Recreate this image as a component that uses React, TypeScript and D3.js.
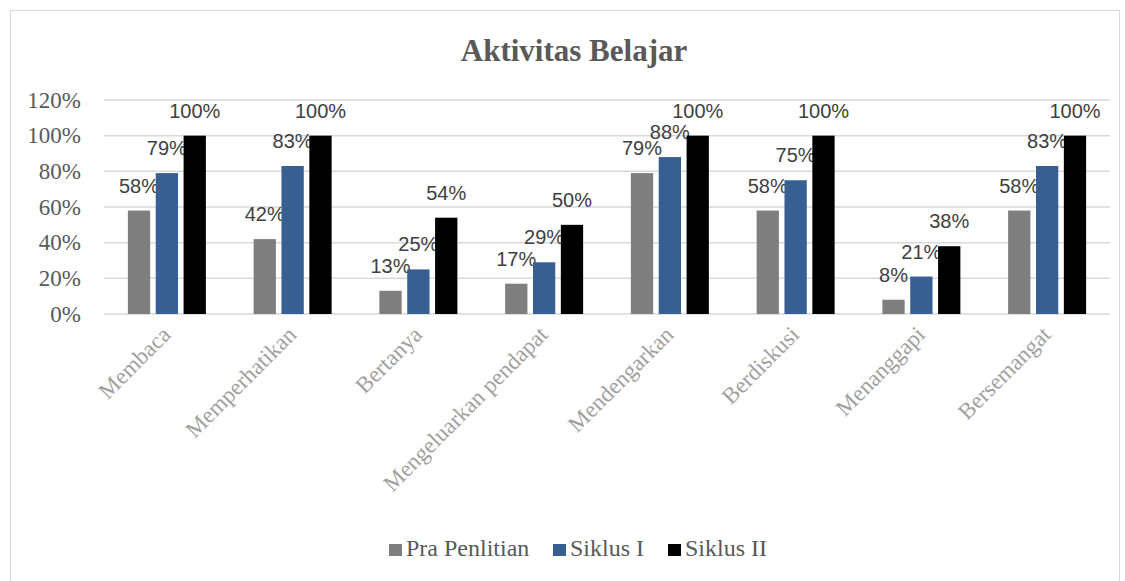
import React from 'react';
import * as d3 from 'd3';

const categories = [
  'Membaca',
  'Memperhatikan',
  'Bertanya',
  'Mengeluarkan pendapat',
  'Mendengarkan',
  'Berdiskusi',
  'Menanggapi',
  'Bersemangat',
];
const seriesNames = ['Pra Penlitian', 'Siklus I', 'Siklus II'];
const praPenelitian = [58, 42, 13, 17, 79, 58, 8, 58];
const siklusI = [79, 83, 25, 29, 88, 75, 21, 83];
const siklusII = [100, 100, 54, 50, 100, 100, 38, 100];
const yTicks = [0, 20, 40, 60, 80, 100, 120];

const colors = ['#7f7f7f', '#375f92', '#000000'];

const width = 1125;
const height = 581;
const margin = { top: 100, right: 15, bottom: 267, left: 104 };

const App: React.FC = () => {
  const series = [praPenelitian, siklusI, siklusII];

  const x0 = d3.scaleBand<string>()
    .domain(categories)
    .range([margin.left, width - margin.right])
    .paddingInner(0)
    .paddingOuter(0);

  // three bars of ~22px with small gaps, centered in each band
  const groupW = 78;
  const x1 = d3.scaleBand<number>()
    .domain([0, 1, 2])
    .range([0, groupW])
    .paddingInner(0.2);

  const y = d3.scaleLinear()
    .domain([0, 120])
    .range([height - margin.bottom, margin.top]);

  const serif = "'Liberation Serif', 'Times New Roman', serif";
  const sans = "'Liberation Sans', 'Noto Sans', Arial, sans-serif";

  // legend layout
  const legendX = [389, 553, 668];

  return (
    <svg width={width} height={height} style={{ position: 'absolute', left: 0, top: 0, background: '#fff' }}>
      <rect x={10.5} y={10.5} width={1109} height={580} fill="#fff" stroke="#d9d9d9" />

      <text x={574} y={61} textAnchor="middle" fontFamily={serif} fontWeight="bold" fontSize={31} fill="#595959">
        Aktivitas Belajar
      </text>

      {yTicks.map((t) => (
        <g key={t}>
          <line x1={margin.left} x2={width - margin.right} y1={y(t)} y2={y(t)} stroke="#d9d9d9" strokeWidth={1.5} />
          <text x={81} y={y(t) + 7.5} textAnchor="end" fontFamily={serif} fontSize={23} fill="#595959">
            {t}%
          </text>
        </g>
      ))}

      {categories.map((c, i) => {
        const gx = (x0(c) ?? 0) + (x0.bandwidth() - groupW) / 2;
        return (
          <g key={c}>
            {series.map((s, k) => {
              const bx = gx + (x1(k) ?? 0);
              const bw = x1.bandwidth();
              return (
                <g key={k}>
                  <rect x={bx} y={y(s[i])} width={bw} height={y(0) - y(s[i])} fill={colors[k]} />
                  <text
                    x={bx + bw / 2}
                    y={y(s[i]) - 18}
                    textAnchor="middle"
                    fontFamily={sans}
                    fontSize={20}
                    fill="#404040"
                  >
                    {s[i]}%
                  </text>
                </g>
              );
            })}
            <text
              transform={`translate(${(x0(c) ?? 0) + x0.bandwidth() / 2 + 5},${y(0) + 22}) rotate(-45)`}
              textAnchor="end"
              fontFamily={serif}
              fontSize={23}
              fill="#a0a0a0"
            >
              {c}
            </text>
          </g>
        );
      })}

      {seriesNames.map((n, k) => (
        <g key={n} transform={`translate(${legendX[k]},550)`}>
          <rect x={0} y={-6} width={13} height={12} fill={colors[k]} />
          <text x={17} y={6} fontFamily={serif} fontSize={24} fill="#595959">
            {n}
          </text>
        </g>
      ))}
    </svg>
  );
};

export default App;
